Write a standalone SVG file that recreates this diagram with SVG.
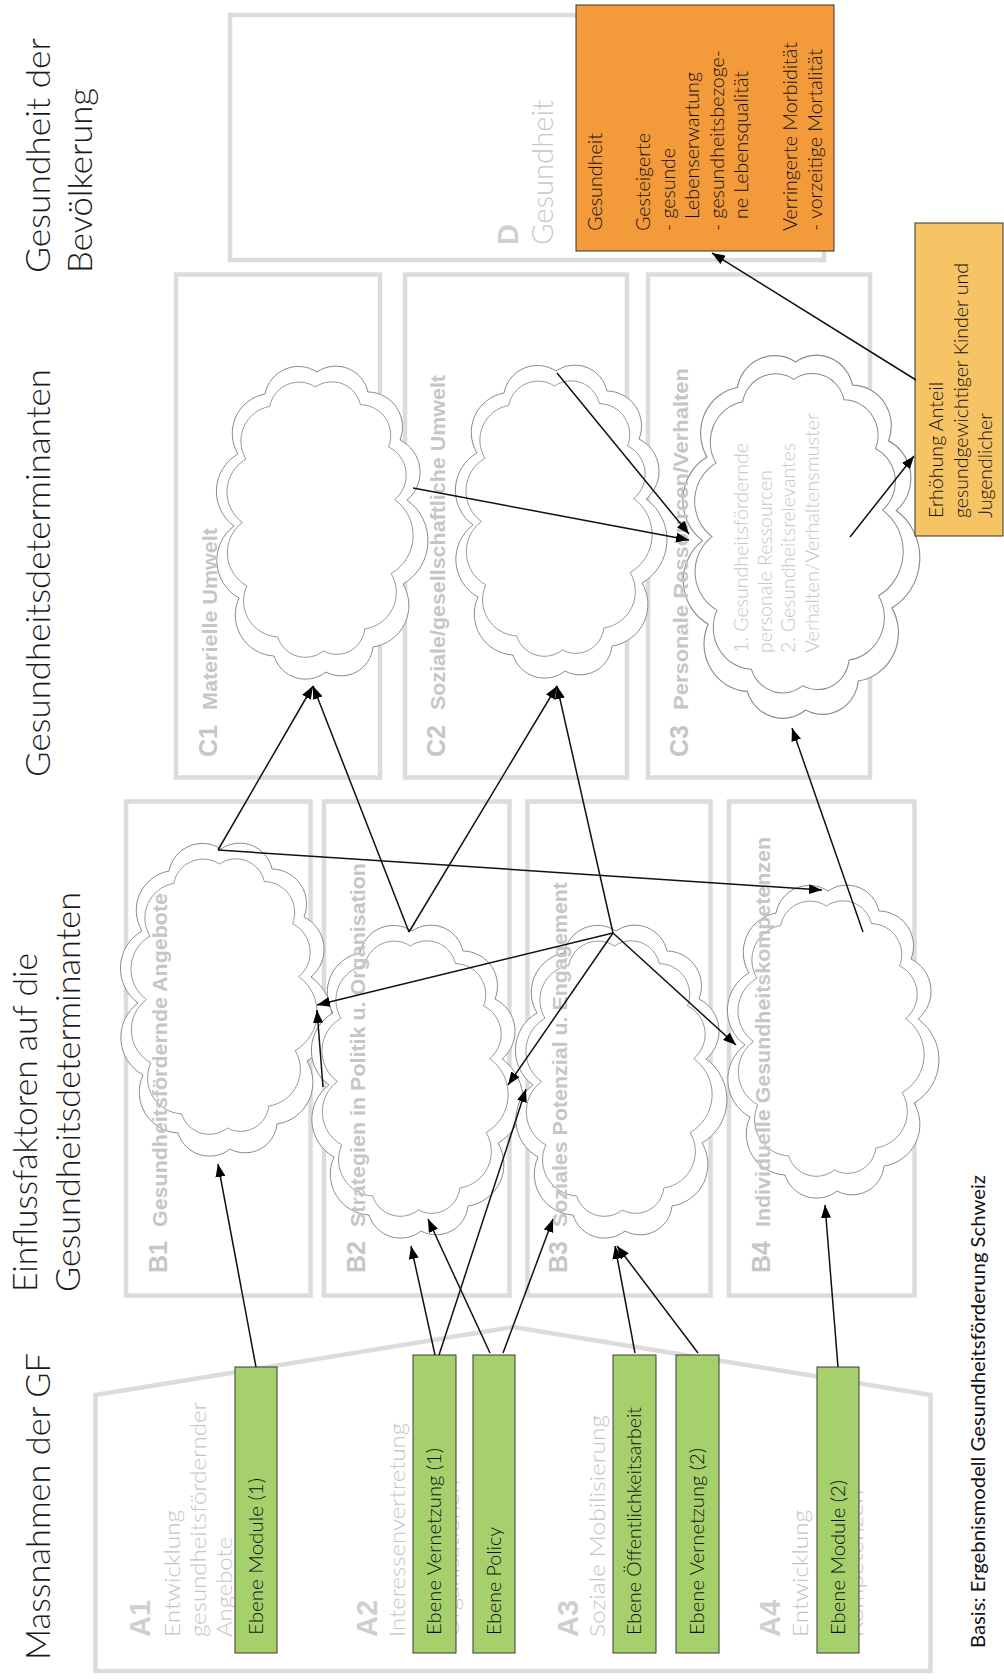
<svg xmlns="http://www.w3.org/2000/svg" width="1004" height="1679" viewBox="0 0 1004 1679">
<style>
.box{fill:none;stroke:#dcdcdc;stroke-width:4.5}
.cl{fill:#fff;stroke:#8a8a8a;stroke-width:1;vector-effect:non-scaling-stroke}
.cli{fill:none;stroke:#8a8a8a;stroke-width:1;vector-effect:non-scaling-stroke}
.h{font-family:Lato,"Liberation Sans",sans-serif;font-weight:300;font-size:34px;fill:#1a1a1a}
.lbn{font-family:"Liberation Sans",Arial,sans-serif;font-weight:bold;font-size:25px;fill:#c6c6c6}
.lbt{font-family:"Liberation Sans",Arial,sans-serif;font-weight:bold;font-size:21px;fill:#c6c6c6}
.al{font-family:"Liberation Sans",Arial,sans-serif;font-weight:bold;font-size:29px;fill:#cfcfcf}
.at{font-family:Lato,"Liberation Sans",sans-serif;font-weight:300;font-size:21px;fill:#c4c4c4}
.dg{font-family:Lato,"Liberation Sans",sans-serif;font-weight:300;font-size:29px;fill:#c8c8c8}
.gb{fill:#a6d06b;stroke:#3a3a3a;stroke-width:1}
.gt{font-family:Lato,"Liberation Sans",sans-serif;font-weight:300;font-size:19px;fill:#111}
.ot{font-family:Lato,"Liberation Sans",sans-serif;font-weight:300;font-size:19.5px;fill:#111}
.ct{font-family:Lato,"Liberation Sans",sans-serif;font-weight:300;font-size:19px;fill:#c6c6c6}
.ft{font-family:Lato,"Liberation Sans",sans-serif;font-weight:400;font-size:19px;fill:#111}
.cn line{stroke:#111;stroke-width:1.5;fill:none;marker-end:url(#ah)}
</style>
<defs>
<marker id="ah" viewBox="0 0 13 10" refX="13" refY="5" markerWidth="13" markerHeight="10" markerUnits="userSpaceOnUse" orient="auto"><path d="M0,0 L13,5 L0,10 z" fill="#000"/></marker>
<path id="cp" d="M86,-22 A50,50 0 0,1 82,62 A42,42 0 0,1 52,125 A32,32 0 0,1 5,150 A33,33 0 0,1 -47,134 A41,41 0 0,1 -82,76 A43,43 0 0,1 -87,4 A43,43 0 0,1 -83,-68 A40,40 0 0,1 -56,-128 A34,34 0 0,1 -4,-150 A33,33 0 0,1 47,-130 A35,35 0 0,1 79,-82 A36,36 0 0,1 86,-22 Z"/>
</defs>
<rect width="1004" height="1679" fill="#fff"/>

<!-- headers -->
<g id="headers">
<text class="h" transform="translate(50,273) rotate(-90)" textLength="235" lengthAdjust="spacingAndGlyphs">Gesundheit der</text>
<text class="h" transform="translate(92,273) rotate(-90)" textLength="185" lengthAdjust="spacingAndGlyphs">Bevölkerung</text>
<text class="h" transform="translate(50,777) rotate(-90)" textLength="408" lengthAdjust="spacingAndGlyphs">Gesundheitsdeterminanten</text>
<text class="h" transform="translate(37,1292) rotate(-90)" textLength="339" lengthAdjust="spacingAndGlyphs">Einflussfaktoren auf die</text>
<text class="h" transform="translate(80,1292) rotate(-90)" textLength="400" lengthAdjust="spacingAndGlyphs">Gesundheitsdeterminanten</text>
<text class="h" transform="translate(50,1660) rotate(-90)" textLength="307" lengthAdjust="spacingAndGlyphs">Massnahmen der GF</text>
</g>

<!-- D -->
<g id="node-D">
<rect class="box" x="230" y="15" width="594" height="245"/>
<text class="al" transform="translate(518,245) rotate(-90)">D</text>
<text class="dg" transform="translate(553,245) rotate(-90)" textLength="145" lengthAdjust="spacingAndGlyphs">Gesundheit</text>
</g>

<!-- C boxes -->
<g id="node-C1"><rect class="box" x="176" y="274.5" width="204" height="503"/></g>
<g id="node-C2"><rect class="box" x="405" y="274.5" width="222" height="503"/></g>
<g id="node-C3"><rect class="box" x="648" y="274.5" width="222" height="503"/></g>
<!-- B boxes -->
<g id="node-B1"><rect class="box" x="126" y="801.5" width="184.5" height="494"/></g>
<g id="node-B2"><rect class="box" x="324" y="801.5" width="185.5" height="494"/></g>
<g id="node-B3"><rect class="box" x="527.5" y="801.5" width="183" height="494"/></g>
<g id="node-B4"><rect class="box" x="729" y="801.5" width="185.5" height="494"/></g>

<!-- A area -->
<g id="node-A">
<polygon class="box" points="95.5,1395 513,1327 930.5,1395 930.5,1671 95.5,1671"/>
<text class="al" transform="translate(150,1637) rotate(-90)">A1</text>
<text class="at" transform="translate(180,1637) rotate(-90)" textLength="127" lengthAdjust="spacingAndGlyphs">Entwicklung</text>
<text class="at" transform="translate(206,1637) rotate(-90)" textLength="235" lengthAdjust="spacingAndGlyphs">gesundheitsfördernder</text>
<text class="at" transform="translate(232,1637) rotate(-90)" textLength="100" lengthAdjust="spacingAndGlyphs">Angebote</text>
<text class="al" transform="translate(377,1637) rotate(-90)">A2</text>
<text class="at" transform="translate(405,1637) rotate(-90)" textLength="214" lengthAdjust="spacingAndGlyphs">Interessenvertretung</text>
<text class="at" transform="translate(459,1637) rotate(-90)" textLength="157" lengthAdjust="spacingAndGlyphs">Organisationen</text>
<text class="al" transform="translate(578,1637) rotate(-90)">A3</text>
<text class="at" transform="translate(605,1637) rotate(-90)" textLength="222" lengthAdjust="spacingAndGlyphs">Soziale Mobilisierung</text>
<text class="al" transform="translate(780,1637) rotate(-90)">A4</text>
<text class="at" transform="translate(808,1637) rotate(-90)" textLength="127" lengthAdjust="spacingAndGlyphs">Entwicklung</text>
<text class="at" transform="translate(863,1637) rotate(-90)" textLength="147" lengthAdjust="spacingAndGlyphs">Kompetenzen</text>
</g>

<!-- clouds -->
<g id="cloud-C1" transform="translate(321,522)"><use href="#cp" class="cl"/><use href="#cp" class="cli" transform="translate(-2,-3) scale(0.88)"/></g>
<g id="cloud-C2" transform="translate(560,521)"><use href="#cp" class="cl"/><use href="#cp" class="cli" transform="translate(-2,-3) scale(0.88)"/></g>
<g id="cloud-C3" transform="translate(800,536) scale(1.12,1.16)"><use href="#cp" class="cl"/><use href="#cp" class="cli" transform="translate(-2,-3) scale(0.88)"/></g>
<g id="cloud-B1" transform="translate(225,999)"><use href="#cp" class="cl"/><use href="#cp" class="cli" transform="translate(-2,-3) scale(0.88)"/></g>
<g id="cloud-B2" transform="translate(416,1081)"><use href="#cp" class="cl"/><use href="#cp" class="cli" transform="translate(-2,-3) scale(0.88)"/></g>
<g id="cloud-B3" transform="translate(620,1081)"><use href="#cp" class="cl"/><use href="#cp" class="cli" transform="translate(-2,-3) scale(0.88)"/></g>
<g id="cloud-B4" transform="translate(832,1041)"><use href="#cp" class="cl"/><use href="#cp" class="cli" transform="translate(-2,-3) scale(0.88)"/></g>

<!-- C / B labels -->
<g id="labels">
<g transform="translate(217,757) rotate(-90)"><text class="lbn">C1</text><text class="lbt" x="47" textLength="182" lengthAdjust="spacingAndGlyphs">Materielle Umwelt</text></g>
<g transform="translate(445,757) rotate(-90)"><text class="lbn">C2</text><text class="lbt" x="47" textLength="335" lengthAdjust="spacingAndGlyphs">Soziale/gesellschaftliche Umwelt</text></g>
<g transform="translate(688,757) rotate(-90)"><text class="lbn">C3</text><text class="lbt" x="47" textLength="342" lengthAdjust="spacingAndGlyphs">Personale Ressourcen/Verhalten</text></g>
<g transform="translate(167,1273) rotate(-90)"><text class="lbn">B1</text><text class="lbt" x="46" textLength="334" lengthAdjust="spacingAndGlyphs">Gesundheitsfördernde Angebote</text></g>
<g transform="translate(365,1273) rotate(-90)"><text class="lbn">B2</text><text class="lbt" x="46" textLength="364" lengthAdjust="spacingAndGlyphs">Strategien in Politik u. Organisation</text></g>
<g transform="translate(567,1273) rotate(-90)"><text class="lbn">B3</text><text class="lbt" x="46" textLength="345" lengthAdjust="spacingAndGlyphs">Soziales Potenzial u. Engagement</text></g>
<g transform="translate(770,1273) rotate(-90)"><text class="lbn">B4</text><text class="lbt" x="46" textLength="390" lengthAdjust="spacingAndGlyphs">Individuelle Gesundheitskompetenzen</text></g>
<g transform="translate(0,653) rotate(-90)">
<text class="ct" y="748" textLength="210" lengthAdjust="spacingAndGlyphs">1. Gesundheitsfördernde</text>
<text class="ct" y="771.5" textLength="183" lengthAdjust="spacingAndGlyphs">personale Ressourcen</text>
<text class="ct" y="795" textLength="210" lengthAdjust="spacingAndGlyphs">2. Gesundheitsrelevantes</text>
<text class="ct" y="818.5" textLength="240" lengthAdjust="spacingAndGlyphs">Verhalten/Verhaltensmuster</text>
</g>
</g>

<!-- green measure boxes -->
<g id="node-module1"><rect class="gb" x="235" y="1367" width="42" height="286"/><text class="gt" transform="translate(263,1635) rotate(-90)" textLength="157" lengthAdjust="spacingAndGlyphs">Ebene Module (1)</text></g>
<g id="node-vernetzung1"><rect class="gb" x="413" y="1355" width="43" height="298"/><text class="gt" transform="translate(441,1635) rotate(-90)" textLength="187" lengthAdjust="spacingAndGlyphs">Ebene Vernetzung (1)</text></g>
<g id="node-policy"><rect class="gb" x="473" y="1355" width="42" height="298"/><text class="gt" transform="translate(501,1635) rotate(-90)" textLength="108" lengthAdjust="spacingAndGlyphs">Ebene Policy</text></g>
<g id="node-oeffentlichkeit"><rect class="gb" x="613" y="1355" width="43" height="298"/><text class="gt" transform="translate(641,1635) rotate(-90)" textLength="228" lengthAdjust="spacingAndGlyphs">Ebene Öffentlichkeitsarbeit</text></g>
<g id="node-vernetzung2"><rect class="gb" x="676" y="1355" width="43" height="298"/><text class="gt" transform="translate(704,1635) rotate(-90)" textLength="187" lengthAdjust="spacingAndGlyphs">Ebene Vernetzung (2)</text></g>
<g id="node-module2"><rect class="gb" x="817" y="1367" width="42" height="286"/><text class="gt" transform="translate(845,1635) rotate(-90)" textLength="155" lengthAdjust="spacingAndGlyphs">Ebene Module (2)</text></g>

<!-- orange outcome box -->
<g id="node-gesundheit">
<rect x="576" y="5" width="258" height="246" fill="#f39a3b" stroke="#333" stroke-width="1"/>
<g transform="translate(0,231) rotate(-90)">
<text class="ot" y="602" textLength="98" lengthAdjust="spacingAndGlyphs">Gesundheit</text>
<text class="ot" y="650" textLength="98" lengthAdjust="spacingAndGlyphs">Gesteigerte</text>
<text class="ot" y="674.5" textLength="83" lengthAdjust="spacingAndGlyphs">- gesunde</text>
<text class="ot" x="12" y="699" textLength="147" lengthAdjust="spacingAndGlyphs">Lebenserwartung</text>
<text class="ot" y="723.5" textLength="181" lengthAdjust="spacingAndGlyphs">- gesundheitsbezoge-</text>
<text class="ot" x="12" y="748" textLength="148" lengthAdjust="spacingAndGlyphs">ne Lebensqualität</text>
<text class="ot" y="797" textLength="189" lengthAdjust="spacingAndGlyphs">Verringerte Morbidität</text>
<text class="ot" y="821.5" textLength="182" lengthAdjust="spacingAndGlyphs">- vorzeitige Mortalität</text>
</g>
</g>

<!-- yellow box -->
<g id="node-gewicht">
<rect x="915" y="223" width="88" height="313" fill="#f7c465" stroke="#333" stroke-width="1"/>
<g transform="translate(0,518) rotate(-90)">
<text class="ot" y="943" textLength="136" lengthAdjust="spacingAndGlyphs">Erhöhung Anteil</text>
<text class="ot" y="967.5" textLength="255" lengthAdjust="spacingAndGlyphs">gesundgewichtiger Kinder und</text>
<text class="ot" y="992" textLength="105" lengthAdjust="spacingAndGlyphs">Jugendlicher</text>
</g>
</g>

<!-- connectors -->
<g id="connectors" class="cn">
<line x1="256" y1="1367" x2="218" y2="1164"/>
<line x1="435" y1="1355" x2="411" y2="1246"/>
<line x1="439" y1="1355" x2="526" y2="1089"/>
<line x1="490" y1="1353" x2="428" y2="1219"/>
<line x1="503" y1="1353" x2="553" y2="1219"/>
<line x1="635" y1="1353" x2="615" y2="1246"/>
<line x1="698" y1="1353" x2="617" y2="1246"/>
<line x1="838" y1="1367" x2="825" y2="1205"/>
<line x1="218" y1="850" x2="313" y2="686"/>
<line x1="218" y1="850" x2="822" y2="890"/>
<line x1="409" y1="932" x2="313" y2="686"/>
<line x1="409" y1="932" x2="557" y2="686"/>
<line x1="613" y1="933" x2="557" y2="686"/>
<line x1="613" y1="933" x2="317" y2="1005"/>
<line x1="613" y1="933" x2="508" y2="1085"/>
<line x1="613" y1="933" x2="736" y2="1045"/>
<line x1="323" y1="1087" x2="317" y2="1010"/>
<line x1="863" y1="932" x2="792" y2="728"/>
<line x1="413" y1="488" x2="689" y2="540"/>
<line x1="557" y1="373" x2="689" y2="534"/>
<line x1="850" y1="537" x2="914" y2="456"/>
<line x1="916" y1="380" x2="712" y2="253"/>
</g>

<!-- footer -->
<text class="ft" transform="translate(985,1648) rotate(-90)" textLength="473" lengthAdjust="spacingAndGlyphs">Basis: Ergebnismodell Gesundheitsförderung Schweiz</text>
</svg>
